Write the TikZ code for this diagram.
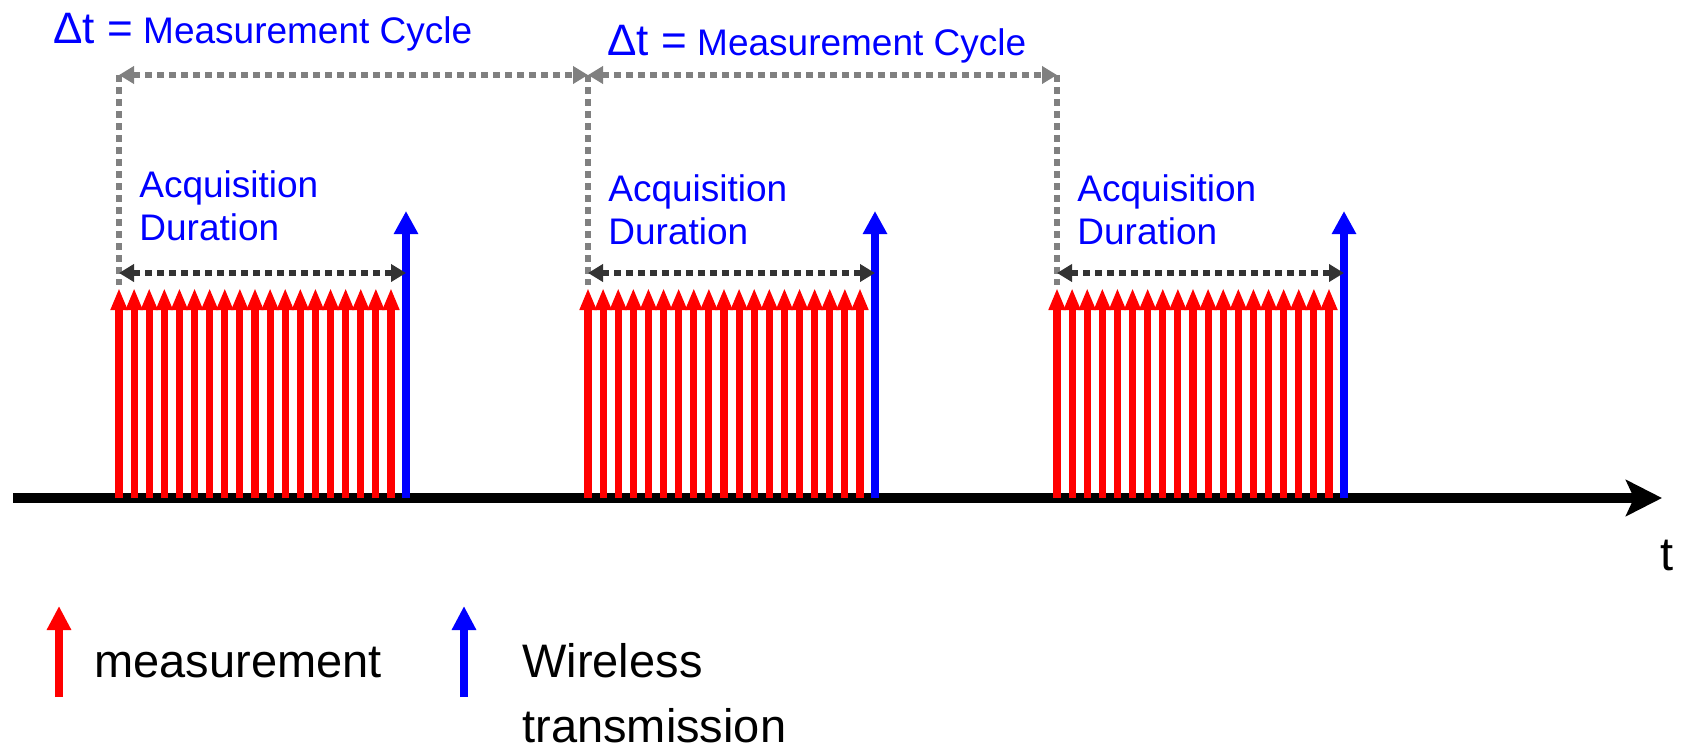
\documentclass[tikz,border=0pt]{standalone}
\usepackage{fontspec}
\setmainfont{Liberation Sans}
\usetikzlibrary{arrows.meta}

\definecolor{meascol}{RGB}{255,0,0}
\definecolor{sendcol}{RGB}{0,0,255}
\definecolor{cyclegray}{RGB}{128,128,128}
\definecolor{spandark}{RGB}{51,51,51}

\tikzset{
  timeaxis/.style={black, line width=5pt, -{Stealth[length=18pt,width=18pt,inset=4pt]}},
  meas/.style={meascol, line width=3.6pt, -{Triangle[width=7.8pt,length=11pt]}},
  measleg/.style={meascol, line width=4pt, -{Triangle[width=11.5pt,length=12pt]}},
  send/.style={sendcol, line width=4pt, -{Triangle[width=11.5pt,length=11.5pt]}},
  sendleg/.style={sendcol, line width=4pt, -{Triangle[width=11.5pt,length=12pt]}},
  cyclespan/.style={cyclegray, line width=3.4pt, dash pattern=on 3.4pt off 2.6pt,
    {Triangle[width=8.5pt,length=7.5pt]}-{Triangle[width=8.5pt,length=7.5pt]}},
  cycleedge/.style={cyclegray, line width=3.4pt, dash pattern=on 3.4pt off 2.6pt},
  acqspan/.style={spandark, line width=3.4pt, dash pattern=on 3.4pt off 2.6pt,
    {Triangle[width=8.5pt,length=7.5pt]}-{Triangle[width=8.5pt,length=7.5pt]}},
  bluetext/.style={sendcol, inner sep=0pt, font=\fontsize{18.5}{21.5}\selectfont},
  legtext/.style={black, inner sep=0pt, font=\fontsize{23.5}{32.5}\selectfont}
}

\begin{document}
\begin{tikzpicture}[x=0.5pt,y=-0.5pt]
\useasboundingbox (0,0) rectangle (1681,750);

% time axis
\coordinate (axisL) at (13,498);
\coordinate (axisR) at (1662,498);
\draw[timeaxis] (axisL) -- (axisR);
\node[legtext, anchor=base] (tlab) at (1667,570) {t};

% one block per measurement cycle
\foreach \i/\x/\y in {1/119/240, 2/588/244, 3/1057/244} {
  \coordinate (top\i) at (\x,75);
  \coordinate (foot\i) at (\x,285);
  \coordinate (acqL\i) at (\x,273);
  \coordinate (acqR\i) at (\x+287,273);
  \coordinate (tx\i) at (\x+287,498);
  \coordinate (txtip\i) at (\x+287,211);
  \foreach \k in {0,...,18}
    \draw[meas] (\x+\k*15.11,498) -- ++(0,-210);
  \draw[send] (tx\i) -- (txtip\i);
  \draw[cycleedge] (top\i) -- (foot\i);
  \draw[acqspan] (acqL\i) -- (acqR\i);
  % base of a two-line node sits on its last line
  \node[bluetext, anchor=base west, align=left] (acq\i) at (\x+20,\y) {Acquisition\\Duration};
}

% measurement cycle spans
\draw[cyclespan] (top1) -- (top2);
\draw[cyclespan] (top2) -- (top3);
\node[bluetext, anchor=base west] (dt1) at (53,43) {{\fontsize{22}{22}\selectfont Δt =} Measurement Cycle};
\node[bluetext, anchor=base west] (dt2) at (607,55) {{\fontsize{22}{22}\selectfont Δt =} Measurement Cycle};

% legend
\coordinate (legM) at (59,697);
\coordinate (legMtip) at (59,606);
\coordinate (legS) at (464,697);
\coordinate (legStip) at (464,606);
\draw[measleg] (legM) -- (legMtip);
\draw[sendleg] (legS) -- (legStip);
\node[legtext, anchor=base west] (mlab) at (94,677) {measurement};
\node[legtext, anchor=base west, align=left] (wlab) at (522,742) {Wireless\\transmission};
\end{tikzpicture}
\end{document}
